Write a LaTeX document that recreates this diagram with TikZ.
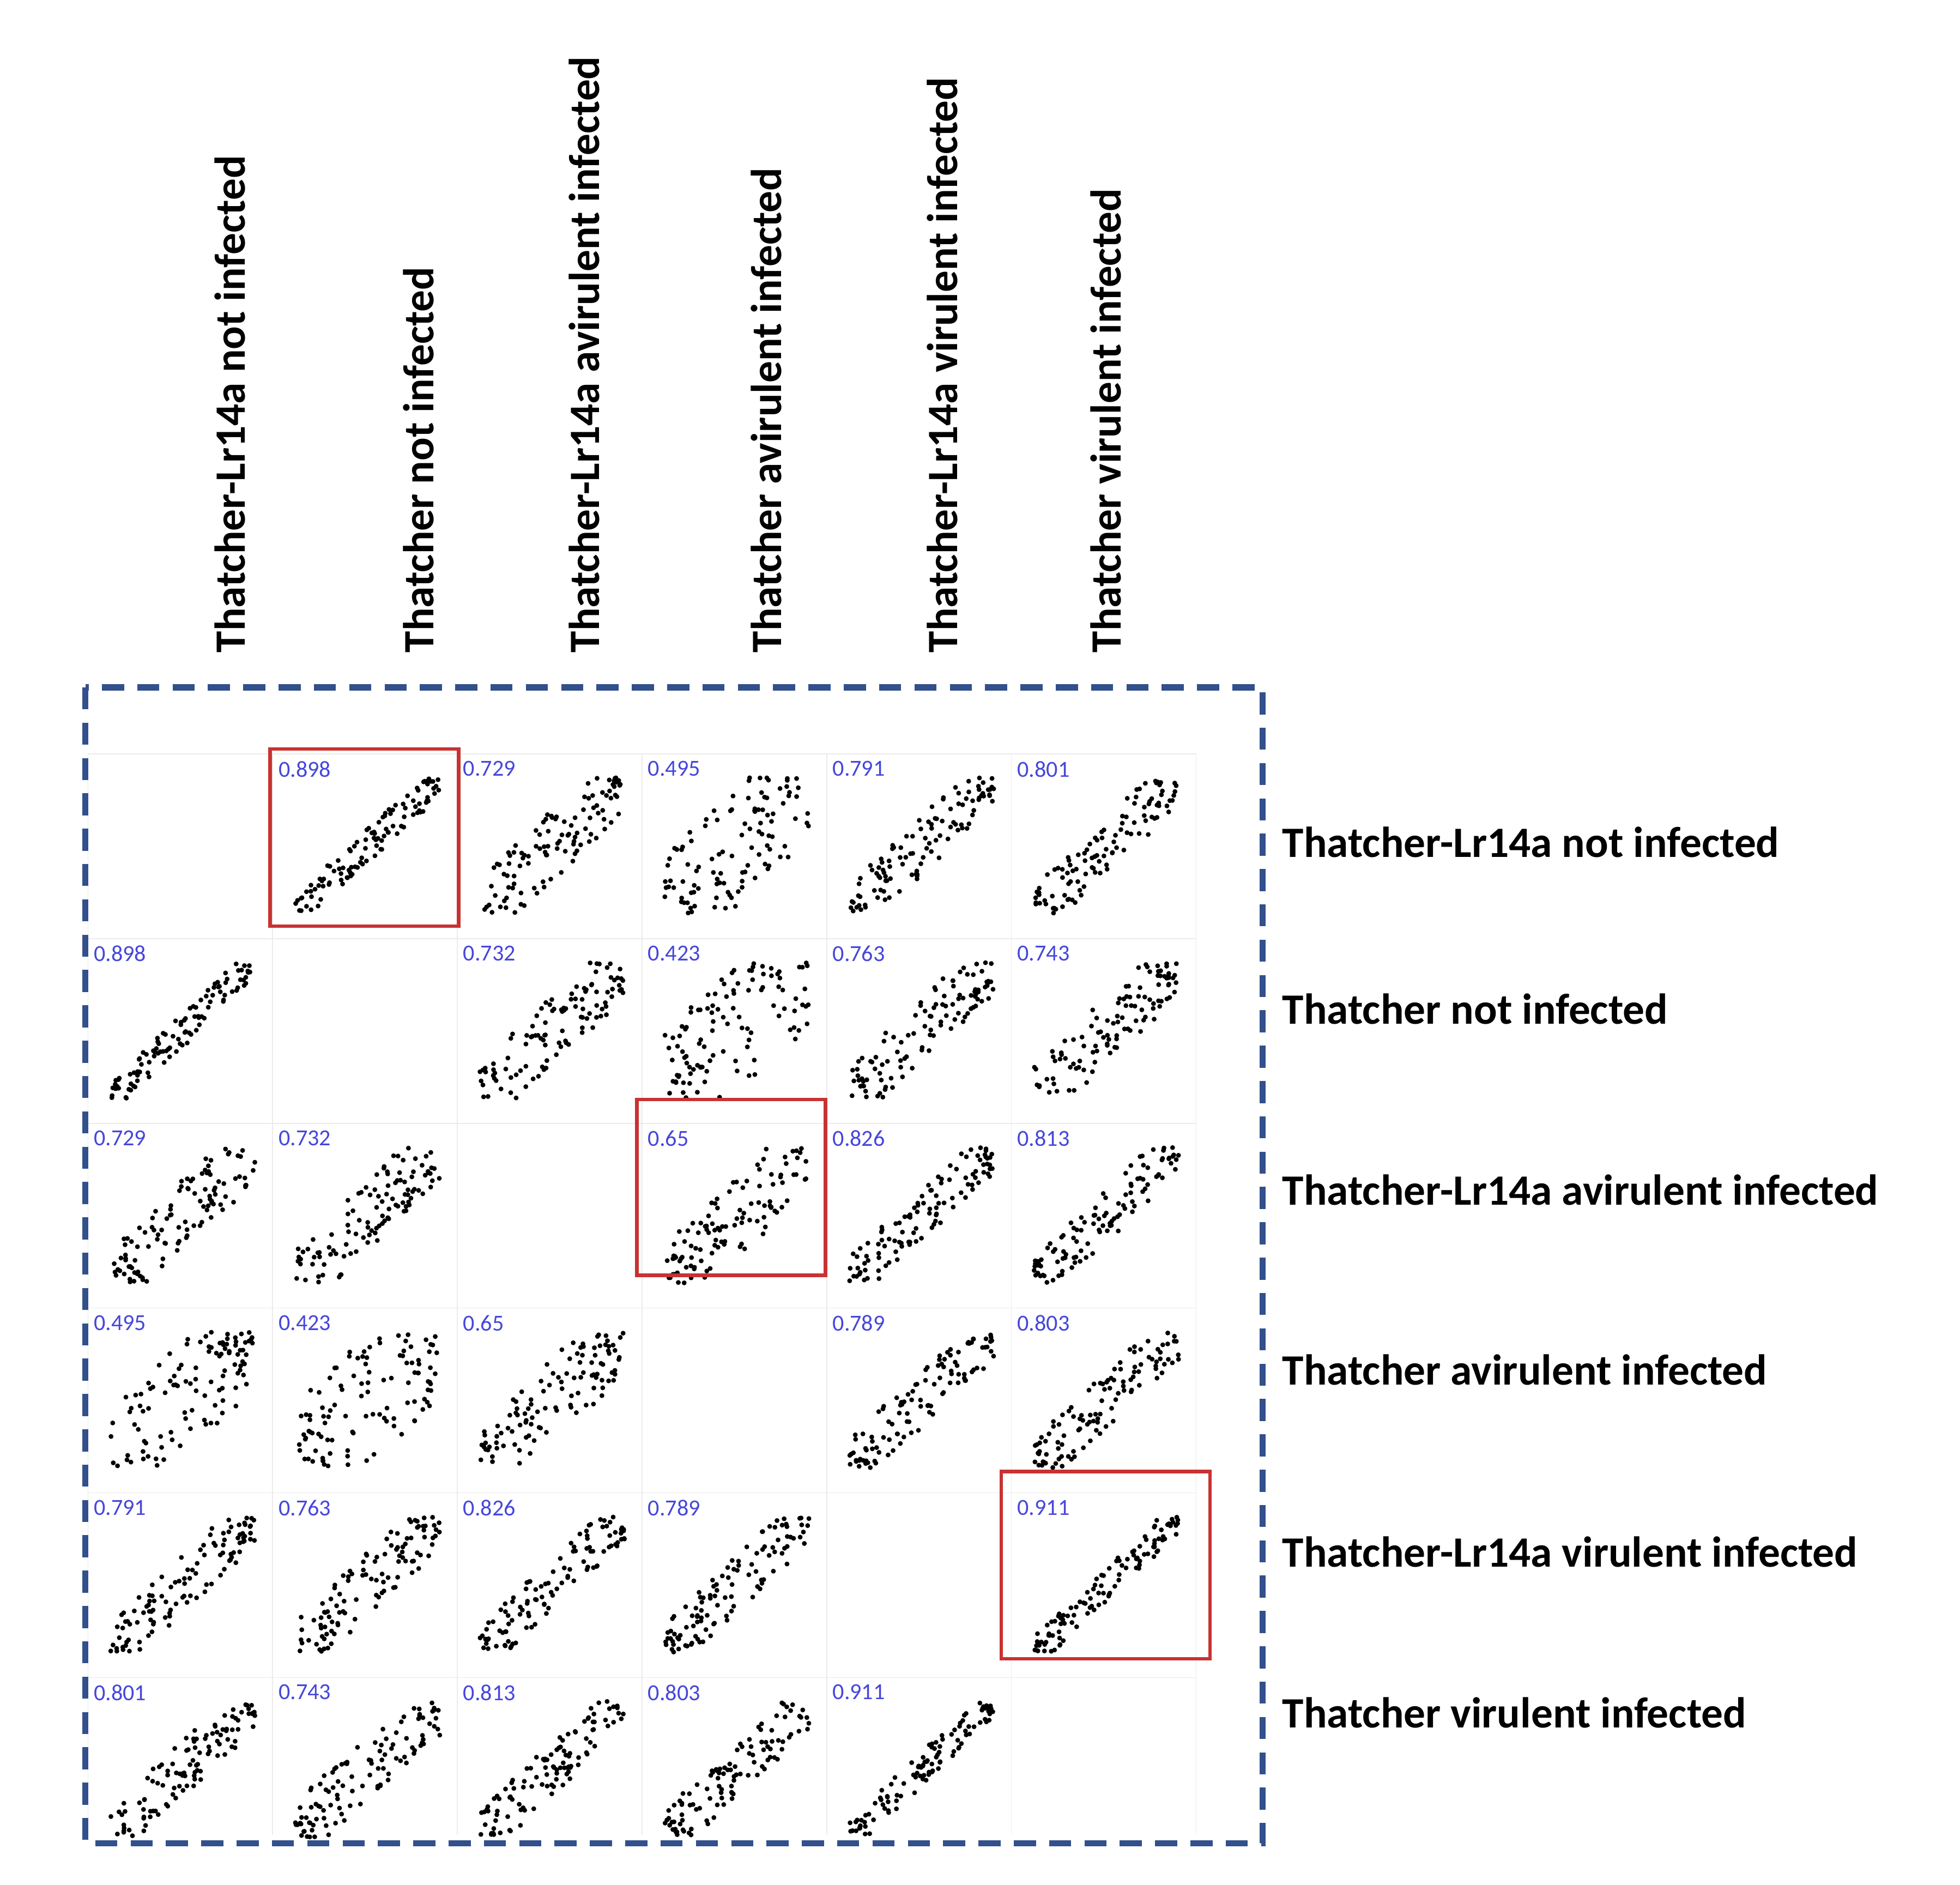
\documentclass[tikz,border=0pt]{standalone}
\usepackage{fontspec}
\setmainfont{Carlito}
\usetikzlibrary{positioning,calc,math}
\definecolor{corrblue}{RGB}{70,70,220}
\definecolor{hlred}{RGB}{200,50,50}
\definecolor{framebl}{RGB}{50,80,140}
\tikzset{
	lbl/.style={font=\bfseries\fontsize{9.8}{11}\selectfont, inner sep=0pt},
	corr/.style={font=\fontsize{5.2}{6}\selectfont, text=corrblue, inner sep=0pt, anchor=north west},
	hl/.style={draw=hlred, thick},
}
\begin{document}
\begin{tikzpicture}
	\useasboundingbox (0,0) rectangle (15.6,15.0);
	\pgfmathsetseed{4217}
	% faint cell grid
	\foreach \k in {0,...,6}
		\draw[black!8, very thin] (0.70+\k*1.47,9.0) -- (0.70+\k*1.47,0.4);
	\foreach \k in {0,...,5}
		\draw[black!8, very thin] (0.70,9.0-\k*1.47) -- (9.52,9.0-\k*1.47);
	% scatter cells: row/column/correlation
	\foreach \r/\c/\val in {1/2/0.898,1/3/0.729,1/4/0.495,1/5/0.791,1/6/0.801,
		2/1/0.898,2/3/0.732,2/4/0.423,2/5/0.763,2/6/0.743,
		3/1/0.729,3/2/0.732,3/4/0.65,3/5/0.826,3/6/0.813,
		4/1/0.495,4/2/0.423,4/3/0.65,4/5/0.789,4/6/0.803,
		5/1/0.791,5/2/0.763,5/3/0.826,5/4/0.789,5/6/0.911,
		6/1/0.801,6/2/0.743,6/3/0.813,6/4/0.803,6/5/0.911} {
		\pgfmathsetmacro\cx{0.70+(\c-1)*1.47}
		\pgfmathsetmacro\cy{9.0-\r*1.47}
		\pgfmathsetmacro\s{(1-\val)*0.75+0.06}
		\node[corr] (v\r\c) at (\cx+0.04,\cy+1.42) {\val};
		\foreach \i in {1,...,110} {
			\pgfmathsetmacro\u{rnd}
			\pgfmathsetmacro\v{1-abs(1-abs(\u+\s*rand))}
			\fill[black] (\cx+0.18+\u*1.15,\cy+0.2+\v*1.08) circle (0.55pt);
		}
	}
	% highlighted pairs
	\draw[hl] (2.15,9.04) rectangle (3.65,7.63);
	\draw[hl] (5.07,6.25) rectangle (6.57,4.85);
	\draw[hl] (7.97,3.29) rectangle (9.63,1.80);
	% outer frame
	\draw[line width=1.4pt, framebl, dash pattern=on 5pt off 3pt] (0.68,9.53) rectangle (10.05,0.33);
	% column labels
	\foreach \x/\t [count=\n] in {1.83/Thatcher-Lr14a not infected, 3.33/Thatcher not infected,
		4.65/Thatcher-Lr14a avirulent infected, 6.10/Thatcher avirulent infected,
		7.50/Thatcher-Lr14a virulent infected, 8.80/Thatcher virulent infected}
		\node[lbl, rotate=90, anchor=west] (col\n) at (\x,9.8) {\t};
	% row labels
	\foreach \y/\t [count=\n] in {8.30/Thatcher-Lr14a not infected, 6.97/Thatcher not infected,
		5.53/Thatcher-Lr14a avirulent infected, 4.10/Thatcher avirulent infected,
		2.65/Thatcher-Lr14a virulent infected, 1.37/Thatcher virulent infected}
		\node[lbl, anchor=west] (row\n) at (10.2,\y) {\t};
\end{tikzpicture}
\end{document}
